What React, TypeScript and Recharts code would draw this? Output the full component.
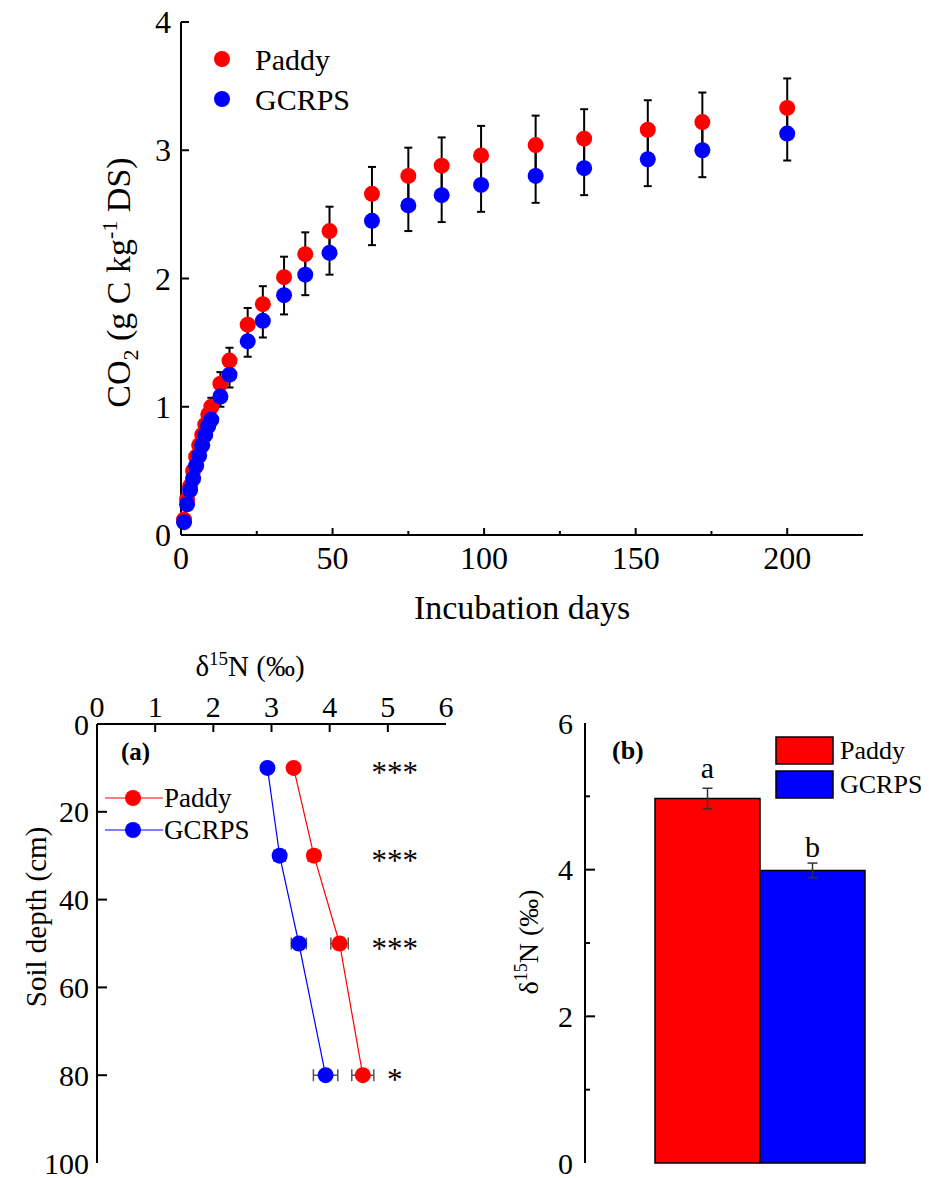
import React from "react";
import {
  ScatterChart,
  Scatter,
  BarChart,
  Bar,
  XAxis,
  YAxis,
  ErrorBar,
  Legend,
  LabelList,
} from "recharts";

const FONT = "'Liberation Serif', 'Times New Roman', serif";
const RED = "#ff0000";
const BLUE = "#0000ff";

// ---- top panel: cumulative CO2 during incubation ----
const incubationDays = [1, 2, 3, 4, 5, 6, 7, 8, 9, 10, 13, 16, 22, 27, 34, 41, 49, 63, 75, 86, 99, 117, 133, 154, 172, 200];
const paddyCO2 = [0.12, 0.28, 0.38, 0.5, 0.61, 0.7, 0.78, 0.86, 0.94, 1.0, 1.18, 1.36, 1.64, 1.8, 2.01, 2.19, 2.37, 2.66, 2.8, 2.88, 2.96, 3.04, 3.09, 3.16, 3.22, 3.33];
const paddyCO2Sd = [0.02, 0.03, 0.03, 0.04, 0.04, 0.05, 0.05, 0.06, 0.06, 0.07, 0.09, 0.1, 0.13, 0.14, 0.16, 0.17, 0.19, 0.21, 0.22, 0.22, 0.23, 0.23, 0.23, 0.23, 0.23, 0.23];
const gcrpsCO2 = [0.1, 0.24, 0.35, 0.44, 0.54, 0.62, 0.7, 0.78, 0.85, 0.9, 1.08, 1.25, 1.51, 1.67, 1.87, 2.03, 2.2, 2.45, 2.57, 2.65, 2.73, 2.8, 2.86, 2.93, 3.0, 3.13];
const gcrpsCO2Sd = [0.02, 0.02, 0.03, 0.03, 0.04, 0.04, 0.05, 0.05, 0.06, 0.06, 0.08, 0.1, 0.12, 0.13, 0.15, 0.16, 0.17, 0.19, 0.2, 0.21, 0.21, 0.21, 0.21, 0.21, 0.21, 0.21];
const dayTicks = [0, 25, 50, 75, 100, 125, 150, 175, 200];
const dayLabels = [0, 50, 100, 150, 200];
const co2Ticks = [0, 1, 2, 3, 4];

// ---- panel (a): d15N profile ----
const depths = [10, 30, 50, 80];
const paddyD15N = [3.38, 3.73, 4.17, 4.57];
const paddyD15NSd = [0.03, 0.1, 0.15, 0.19];
const gcrpsD15N = [2.93, 3.14, 3.47, 3.93];
const gcrpsD15NSd = [0.05, 0.1, 0.13, 0.21];
const significance = ["***", "***", "***", "*"];
const d15nTicks = [0, 1, 2, 3, 4, 5, 6];
const depthTicks = [0, 20, 40, 60, 80, 100];

// ---- panel (b): mean d15N ----
const barGroups = ["Paddy", "GCRPS"];
const barMeans = [4.97, 3.99];
const barSd = [0.14, 0.1];
const barLetters = ["a", "b"];
const barTicks = [0, 1, 2, 3, 4, 5, 6];
const barLabels = [0, 2, 4, 6];

const SIG_X = 5.12;

type Side = "bottom" | "left" | "top";

function axisTick(
  side: Side,
  labelled: number[],
  o: { font: number; gap: number; major: number; minor: number; color?: string; bare?: number[] }
) {
  return (props: any) => {
    const { x, y, payload } = props;
    const v = Number(payload.value);
    const isMajor = labelled.includes(v);
    const len = isMajor ? o.major : o.minor;
    const showLine = len > 0 && !(o.bare || []).includes(v);
    const stroke = o.color || "#000";
    let line: React.ReactNode = null;
    let text: React.ReactNode = null;
    if (side === "bottom") {
      line = <line x1={x} y1={y} x2={x} y2={y - len} stroke={stroke} strokeWidth={2} />;
      text = (
        <text x={x} y={y + o.gap} textAnchor="middle" fontSize={o.font} fontFamily={FONT} fill="#000">
          {v}
        </text>
      );
    } else if (side === "top") {
      line = <line x1={x} y1={y} x2={x} y2={y + len} stroke={stroke} strokeWidth={2} />;
      text = (
        <text x={x} y={y - o.gap} textAnchor="middle" fontSize={o.font} fontFamily={FONT} fill="#000">
          {v}
        </text>
      );
    } else {
      line = <line x1={x} y1={y} x2={x + len} y2={y} stroke={stroke} strokeWidth={2} />;
      text = (
        <text x={x - o.gap} y={y} textAnchor="end" dominantBaseline="central" fontSize={o.font} fontFamily={FONT} fill="#000">
          {v}
        </text>
      );
    }
    return (
      <g>
        {showLine ? line : null}
        {isMajor && o.font > 0 ? text : null}
      </g>
    );
  };
}

const dot = (color: string, r: number) => (p: any) => <circle cx={p.cx} cy={p.cy} r={r} fill={color} />;
const blank = () => <g />;

const frame = { stroke: "#000", strokeWidth: 2 };

const paddyCurve = incubationDays.map((d, i) => ({ day: d, co2: paddyCO2[i], sd: paddyCO2Sd[i] }));
const gcrpsCurve = incubationDays.map((d, i) => ({ day: d, co2: gcrpsCO2[i], sd: gcrpsCO2Sd[i] }));

const paddyProfile = depths.map((d, i) => ({ depth: d, d15n: paddyD15N[i], sd: paddyD15NSd[i] }));
const gcrpsProfile = depths.map((d, i) => ({ depth: d, d15n: gcrpsD15N[i], sd: gcrpsD15NSd[i] }));
const sigPoints = depths.map((d, i) => ({ depth: d, d15n: SIG_X, label: significance[i] }));

const barRow = [
  {
    name: "",
    paddy: barMeans[0],
    paddySd: barSd[0],
    paddyLetter: barLetters[0],
    gcrps: barMeans[1],
    gcrpsSd: barSd[1],
    gcrpsLetter: barLetters[1],
  },
];

function CO2Chart() {
  return (
    <ScatterChart width={929} height={640} margin={{ top: 22, right: 66, bottom: 0, left: 0 }}>
      <XAxis
        type="number"
        dataKey="day"
        domain={[0, 225]}
        ticks={dayTicks}
        interval={0}
        height={105}
        tickSize={0}
        tickMargin={0}
        tickLine={false}
        axisLine={frame}
        tick={axisTick("bottom", dayLabels, { font: 32, gap: 34, major: 7, minor: 4 })}
        label={(p: any) => {
          const vb = p.viewBox || { x: 181, y: 535, width: 682 };
          return (
            <text x={vb.x + vb.width / 2} y={vb.y + 84} textAnchor="middle" fontSize={34} fontFamily={FONT} fill="#000">
              Incubation days
            </text>
          );
        }}
      />
      <XAxis xAxisId="top" orientation="top" type="number" domain={[0, 225]} height={0} tick={false} tickLine={false} axisLine={frame} />
      <YAxis
        type="number"
        dataKey="co2"
        domain={[0, 4]}
        ticks={co2Ticks}
        interval={0}
        width={181}
        tickSize={0}
        tickMargin={0}
        tickLine={false}
        axisLine={frame}
        tick={axisTick("left", co2Ticks, { font: 32, gap: 10, major: 8, minor: 0 })}
        label={(p: any) => {
          const vb = p.viewBox || { y: 22, height: 513 };
          const cx = 130;
          const cy = vb.y + vb.height / 2 + 4;
          return (
            <text transform={`rotate(-90, ${cx}, ${cy})`} x={cx} y={cy} textAnchor="middle" fontSize={34} fontFamily={FONT} fill="#000">
              CO
              <tspan dy={8} fontSize={22}>2</tspan>
              <tspan dy={-8}> (g C kg</tspan>
              <tspan dy={-13} fontSize={22}>-1</tspan>
              <tspan dy={13}> DS)</tspan>
            </text>
          );
        }}
      />
      <YAxis yAxisId="right" orientation="right" type="number" domain={[0, 4]} width={0} tick={false} tickLine={false} axisLine={frame} />
      <Scatter name="Paddy" data={paddyCurve} fill={RED} shape={dot(RED, 8)} isAnimationActive={false} />
      <Scatter name="GCRPS" data={gcrpsCurve} fill={BLUE} shape={dot(BLUE, 8)} isAnimationActive={false} />
      <Scatter data={paddyCurve} shape={blank} legendType="none" isAnimationActive={false}>
        <ErrorBar dataKey="sd" direction="y" width={4} stroke="#000" strokeWidth={2} />
      </Scatter>
      <Scatter data={gcrpsCurve} shape={blank} legendType="none" isAnimationActive={false}>
        <ErrorBar dataKey="sd" direction="y" width={4} stroke="#000" strokeWidth={2} />
      </Scatter>
      <Legend
        layout="vertical"
        align="center"
        verticalAlign="middle"
        wrapperStyle={{ left: 205, top: 35, width: 170, height: 90 }}
        content={() => (
          <svg width={170} height={90} style={{ display: "block" }}>
            {barGroups.map((g, i) => (
              <g key={g}>
                <circle cx={17} cy={24 + i * 40} r={8} fill={i === 0 ? RED : BLUE} />
                <text x={50} y={35 + i * 40} fontSize={30} fontFamily={FONT} fill="#000">
                  {g}
                </text>
              </g>
            ))}
          </svg>
        )}
      />
    </ScatterChart>
  );
}

function ProfileChart() {
  return (
    <ScatterChart width={470} height={538} margin={{ top: 0, right: 24, bottom: 15, left: 0 }}>
      <XAxis
        type="number"
        dataKey="d15n"
        orientation="top"
        domain={[0, 6]}
        ticks={d15nTicks}
        interval={0}
        height={84}
        tickSize={0}
        tickMargin={0}
        tickLine={false}
        axisLine={frame}
        tick={axisTick("top", d15nTicks, { font: 30, gap: 7, major: 8, minor: 0, bare: [0, 6] })}
        label={() => (
          <text x={250} y={36} textAnchor="middle" fontSize={29} fontFamily={FONT} fill="#000">
            δ<tspan dy={-11} fontSize={19}>15</tspan>
            <tspan dy={11}>N (‰)</tspan>
          </text>
        )}
      />
      <XAxis
        xAxisId="bottom"
        orientation="bottom"
        type="number"
        domain={[0, 6]}
        ticks={[0.5, 1, 1.5, 2, 2.5, 3, 3.5, 4, 4.5, 5, 5.5]}
        interval={0}
        height={0}
        tickSize={0}
        tickMargin={0}
        tickLine={false}
        axisLine={frame}
        tick={axisTick("bottom", [], { font: 0, gap: 0, major: 0, minor: 4, color: "#888" })}
      />
      <YAxis
        type="number"
        dataKey="depth"
        domain={[0, 100]}
        reversed
        ticks={depthTicks}
        interval={0}
        width={97}
        tickSize={0}
        tickMargin={0}
        tickLine={false}
        axisLine={frame}
        tick={axisTick("left", depthTicks, { font: 30, gap: 8, major: 10, minor: 0, bare: [0, 100] })}
        label={() => (
          <text transform="rotate(-90, 46, 277)" x={46} y={277} textAnchor="middle" fontSize={29} fontFamily={FONT} fill="#000">
            Soil depth (cm)
          </text>
        )}
      />
      <YAxis yAxisId="right" orientation="right" type="number" domain={[0, 100]} width={0} tick={false} tickLine={false} axisLine={frame} />
      <Scatter
        name="Paddy"
        data={paddyProfile}
        line={{ stroke: RED, strokeWidth: 1.2 }}
        fill={RED}
        shape={dot(RED, 8)}
        isAnimationActive={false}
      >
        <ErrorBar dataKey="sd" direction="x" width={6} stroke="#555" strokeWidth={1.5} />
      </Scatter>
      <Scatter
        name="GCRPS"
        data={gcrpsProfile}
        line={{ stroke: BLUE, strokeWidth: 1.2 }}
        fill={BLUE}
        shape={dot(BLUE, 8)}
        isAnimationActive={false}
      >
        <ErrorBar dataKey="sd" direction="x" width={6} stroke="#555" strokeWidth={1.5} />
      </Scatter>
      <Scatter
        data={sigPoints}
        legendType="none"
        isAnimationActive={false}
        shape={(p: any) => (
          <text x={p.cx} y={p.cy + 15} textAnchor="middle" fontSize={31} fontFamily={FONT} fill="#000">
            {p.payload.label}
          </text>
        )}
      />
      <Legend
        layout="vertical"
        align="center"
        verticalAlign="middle"
        wrapperStyle={{ left: 100, top: 95, width: 200, height: 120 }}
        content={() => (
          <svg width={200} height={120} style={{ display: "block" }}>
            <text x={21} y={25} fontSize={25} fontWeight="bold" fontFamily={FONT} fill="#000">
              (a)
            </text>
            {barGroups.map((g, i) => (
              <g key={g}>
                <line x1={5} x2={63} y1={63 + i * 32} y2={63 + i * 32} stroke={i === 0 ? RED : BLUE} strokeWidth={1.2} />
                <circle cx={33} cy={63 + i * 32} r={8} fill={i === 0 ? RED : BLUE} />
                <text x={64} y={72 + i * 32} fontSize={27} fontFamily={FONT} fill="#000">
                  {g}
                </text>
              </g>
            ))}
          </svg>
        )}
      />
    </ScatterChart>
  );
}

function MeanBarChart() {
  return (
    <BarChart width={470} height={538} data={barRow} margin={{ top: 83, right: 5, bottom: 15, left: 0 }} barCategoryGap="20%" barGap={0}>
      <XAxis dataKey="name" height={0} tick={false} tickLine={false} axisLine={frame} />
      <XAxis xAxisId="top" orientation="top" dataKey="name" height={0} tick={false} tickLine={false} axisLine={frame} />
      <YAxis
        type="number"
        domain={[0, 6]}
        ticks={barTicks}
        interval={0}
        width={115}
        tickSize={0}
        tickMargin={0}
        tickLine={false}
        axisLine={frame}
        tick={axisTick("left", barLabels, { font: 30, gap: 12, major: 10, minor: 5, bare: [0, 6] })}
        label={() => (
          <text transform="rotate(-90, 68, 302)" x={68} y={302} textAnchor="middle" fontSize={28} fontFamily={FONT} fill="#000">
            δ<tspan dy={-11} fontSize={18}>15</tspan>
            <tspan dy={11}>N (‰)</tspan>
          </text>
        )}
      />
      <YAxis yAxisId="right" orientation="right" type="number" domain={[0, 6]} width={0} tick={false} tickLine={false} axisLine={frame} />
      <Bar dataKey="paddy" name="Paddy" fill={RED} stroke="#000" strokeWidth={1.5} isAnimationActive={false}>
        <ErrorBar dataKey="paddySd" direction="y" width={5} stroke="#333" strokeWidth={1.5} />
        <LabelList
          dataKey="paddyLetter"
          content={(p: any) => (
            <text x={p.x + p.width / 2} y={p.y - 21} textAnchor="middle" fontSize={30} fontFamily={FONT} fill="#000">
              {p.value}
            </text>
          )}
        />
      </Bar>
      <Bar dataKey="gcrps" name="GCRPS" fill={BLUE} stroke="#000" strokeWidth={1.5} isAnimationActive={false}>
        <ErrorBar dataKey="gcrpsSd" direction="y" width={5} stroke="#333" strokeWidth={1.5} />
        <LabelList
          dataKey="gcrpsLetter"
          content={(p: any) => (
            <text x={p.x + p.width / 2} y={p.y - 13} textAnchor="middle" fontSize={30} fontFamily={FONT} fill="#000">
              {p.value}
            </text>
          )}
        />
      </Bar>
      <Legend
        layout="vertical"
        align="center"
        verticalAlign="middle"
        wrapperStyle={{ left: 130, top: 90, width: 340, height: 80 }}
        content={() => (
          <svg width={340} height={80} style={{ display: "block" }}>
            <text x={12} y={29} fontSize={26} fontWeight="bold" fontFamily={FONT} fill="#000">
              (b)
            </text>
            {barGroups.map((g, i) => (
              <g key={g}>
                <rect x={176} y={7 + i * 34} width={57} height={27} fill={i === 0 ? RED : BLUE} stroke="#000" strokeWidth={1.5} />
                <text x={240} y={29 + i * 34} fontSize={26} fontFamily={FONT} fill="#000">
                  {g}
                </text>
              </g>
            ))}
          </svg>
        )}
      />
    </BarChart>
  );
}

export default function App() {
  return (
    <div style={{ position: "absolute", left: 0, top: 0, width: 929, height: 1178, overflow: "hidden", background: "#fff", fontFamily: FONT }}>
      <div style={{ position: "absolute", left: 0, top: 0 }}>
        <CO2Chart />
      </div>
      <div style={{ position: "absolute", left: 0, top: 640 }}>
        <ProfileChart />
      </div>
      <div style={{ position: "absolute", left: 470, top: 640 }}>
        <MeanBarChart />
      </div>
    </div>
  );
}
